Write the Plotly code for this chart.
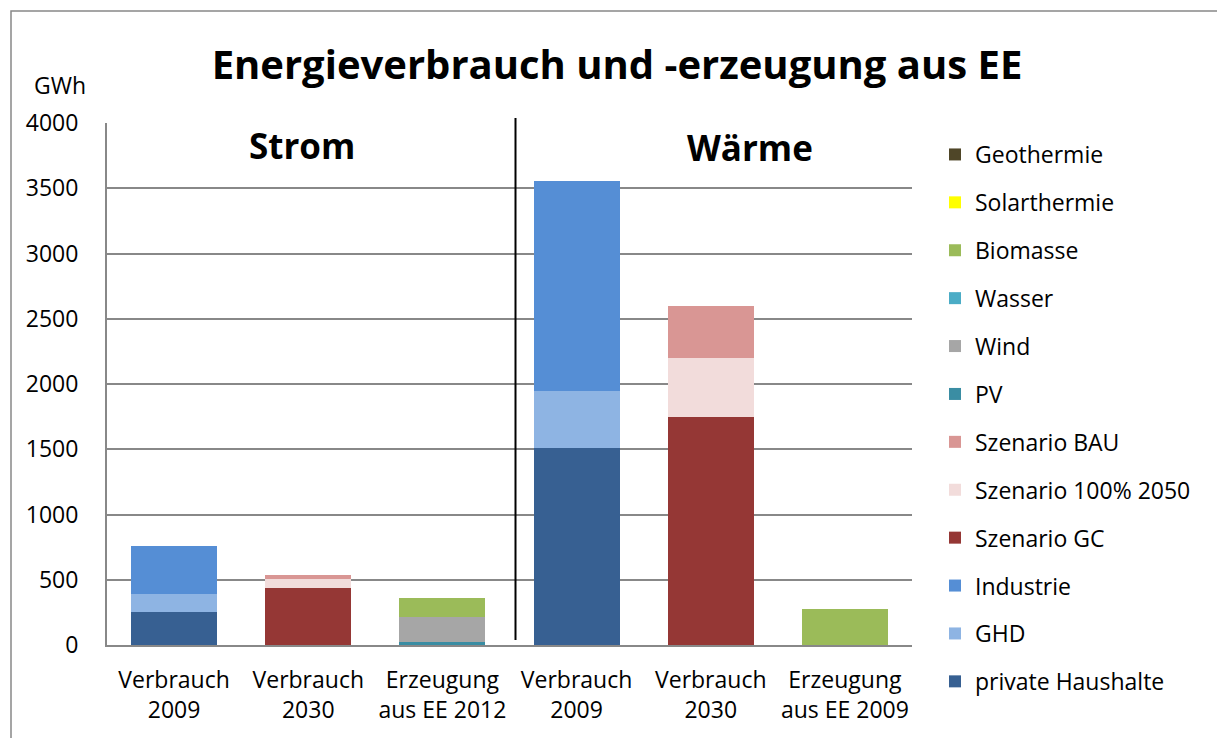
import plotly.graph_objects as go

# x positions 0..5: Strom (Verbrauch 2009, Verbrauch 2030, Erzeugung 2012), Wärme (Verbrauch 2009, Verbrauch 2030, Erzeugung 2009)
positions = [0, 1, 2, 3, 4, 5]
tick_labels = ["Verbrauch<br>2009", "Verbrauch<br>2030", "Erzeugung<br>aus EE 2012",
               "Verbrauch<br>2009", "Verbrauch<br>2030", "Erzeugung<br>aus EE 2009"]

private_haushalte = [250, 0, 0, 1510, 0, 0]
ghd = [140, 0, 0, 440, 0, 0]
industrie = [370, 0, 0, 1605, 0, 0]
szenario_gc = [0, 440, 0, 0, 1750, 0]
szenario_100 = [0, 65, 0, 0, 450, 0]
szenario_bau = [0, 35, 0, 0, 400, 0]
pv = [0, 0, 25, 0, 0, 0]
wind = [0, 0, 192, 0, 0, 0]
wasser = [0, 0, 0, 0, 0, 0]
biomasse = [0, 0, 140, 0, 0, 275]
solarthermie = [0, 0, 0, 0, 0, 0]
geothermie = [0, 0, 0, 0, 0, 0]

series = [
    ("private Haushalte", private_haushalte, "#376092"),
    ("GHD", ghd, "#8EB4E3"),
    ("Industrie", industrie, "#558ED5"),
    ("Szenario GC", szenario_gc, "#953735"),
    ("Szenario 100% 2050", szenario_100, "#F2DCDB"),
    ("Szenario BAU", szenario_bau, "#D99694"),
    ("PV", pv, "#3A8DA3"),
    ("Wind", wind, "#A6A6A6"),
    ("Wasser", wasser, "#4BACC6"),
    ("Biomasse", biomasse, "#9BBB59"),
    ("Solarthermie", solarthermie, "#FFFF00"),
    ("Geothermie", geothermie, "#4F4628"),
]

FONT = "Open Sans"
GRID = "#888888"

fig = go.Figure()
for i, (name, vals, col) in enumerate(series):
    # legend lists the stack top-down, like Excel
    fig.add_trace(go.Bar(x=positions, y=vals, name=name, legendgroup=name,
                         legendrank=1000 - i,
                         marker=dict(color=col, line=dict(width=0))))

W, H = 1217, 738
L, R, T, B = 107, 912, 123, 645
pw, ph = R - L, B - T


def px(x):
    return (x - L) / pw


def py(y):
    return (B - y) / ph


fig.update_layout(
    width=W, height=H,
    barmode="stack", bargap=0.36,
    margin=dict(l=L, r=W - R, t=T, b=H - B),
    plot_bgcolor="white", paper_bgcolor="white",
    font=dict(family=FONT, size=23, color="black"),
    title=dict(text="<b>Energieverbrauch und -erzeugung aus EE</b>",
               x=617 / W, y=1 - 65 / H, xanchor="center", yanchor="middle",
               font=dict(size=40, family=FONT)),
    legend=dict(x=px(935), y=py(133), xanchor="left", yanchor="top",
                traceorder="grouped", tracegroupgap=15, maxheight=720,
                font=dict(size=23), bgcolor="rgba(0,0,0,0)"),
    xaxis=dict(tickmode="array", tickvals=positions, ticktext=tick_labels,
               range=[-0.5, 5.5], showgrid=False, showline=True, linecolor=GRID,
               linewidth=2, ticks="", ticklabelstandoff=13),
    yaxis=dict(range=[0, 4000], dtick=500, showgrid=True, gridcolor=GRID, gridwidth=2,
               showline=True, linecolor=GRID, linewidth=2, ticks="", zeroline=False,
               ticklabelstandoff=22),
    showlegend=True,
)

# outer chart frame
fig.add_shape(type="rect", xref="paper", yref="paper",
              x0=px(11), x1=px(1240), y0=py(760), y1=py(11),
              line=dict(color=GRID, width=1.5), layer="below")
# Strom / Wärme divider
fig.add_shape(type="line", xref="paper", yref="paper",
              x0=px(515.5), x1=px(515.5), y0=py(640), y1=py(118),
              line=dict(color="black", width=2))

fig.add_annotation(text="GWh", xref="paper", yref="paper", x=px(60), y=py(85),
                   xanchor="center", yanchor="middle",
                   showarrow=False, font=dict(size=23))
fig.add_annotation(text="<b>Strom</b>", xref="paper", yref="paper", x=px(302), y=py(145),
                   xanchor="center", yanchor="middle",
                   showarrow=False, font=dict(size=35))
fig.add_annotation(text="<b>Wärme</b>", xref="paper", yref="paper", x=px(750), y=py(147),
                   xanchor="center", yanchor="middle",
                   showarrow=False, font=dict(size=35))

fig.write_html("out.html", config={"displayModeBar": False},
               post_script="document.body.style.margin='0';")
